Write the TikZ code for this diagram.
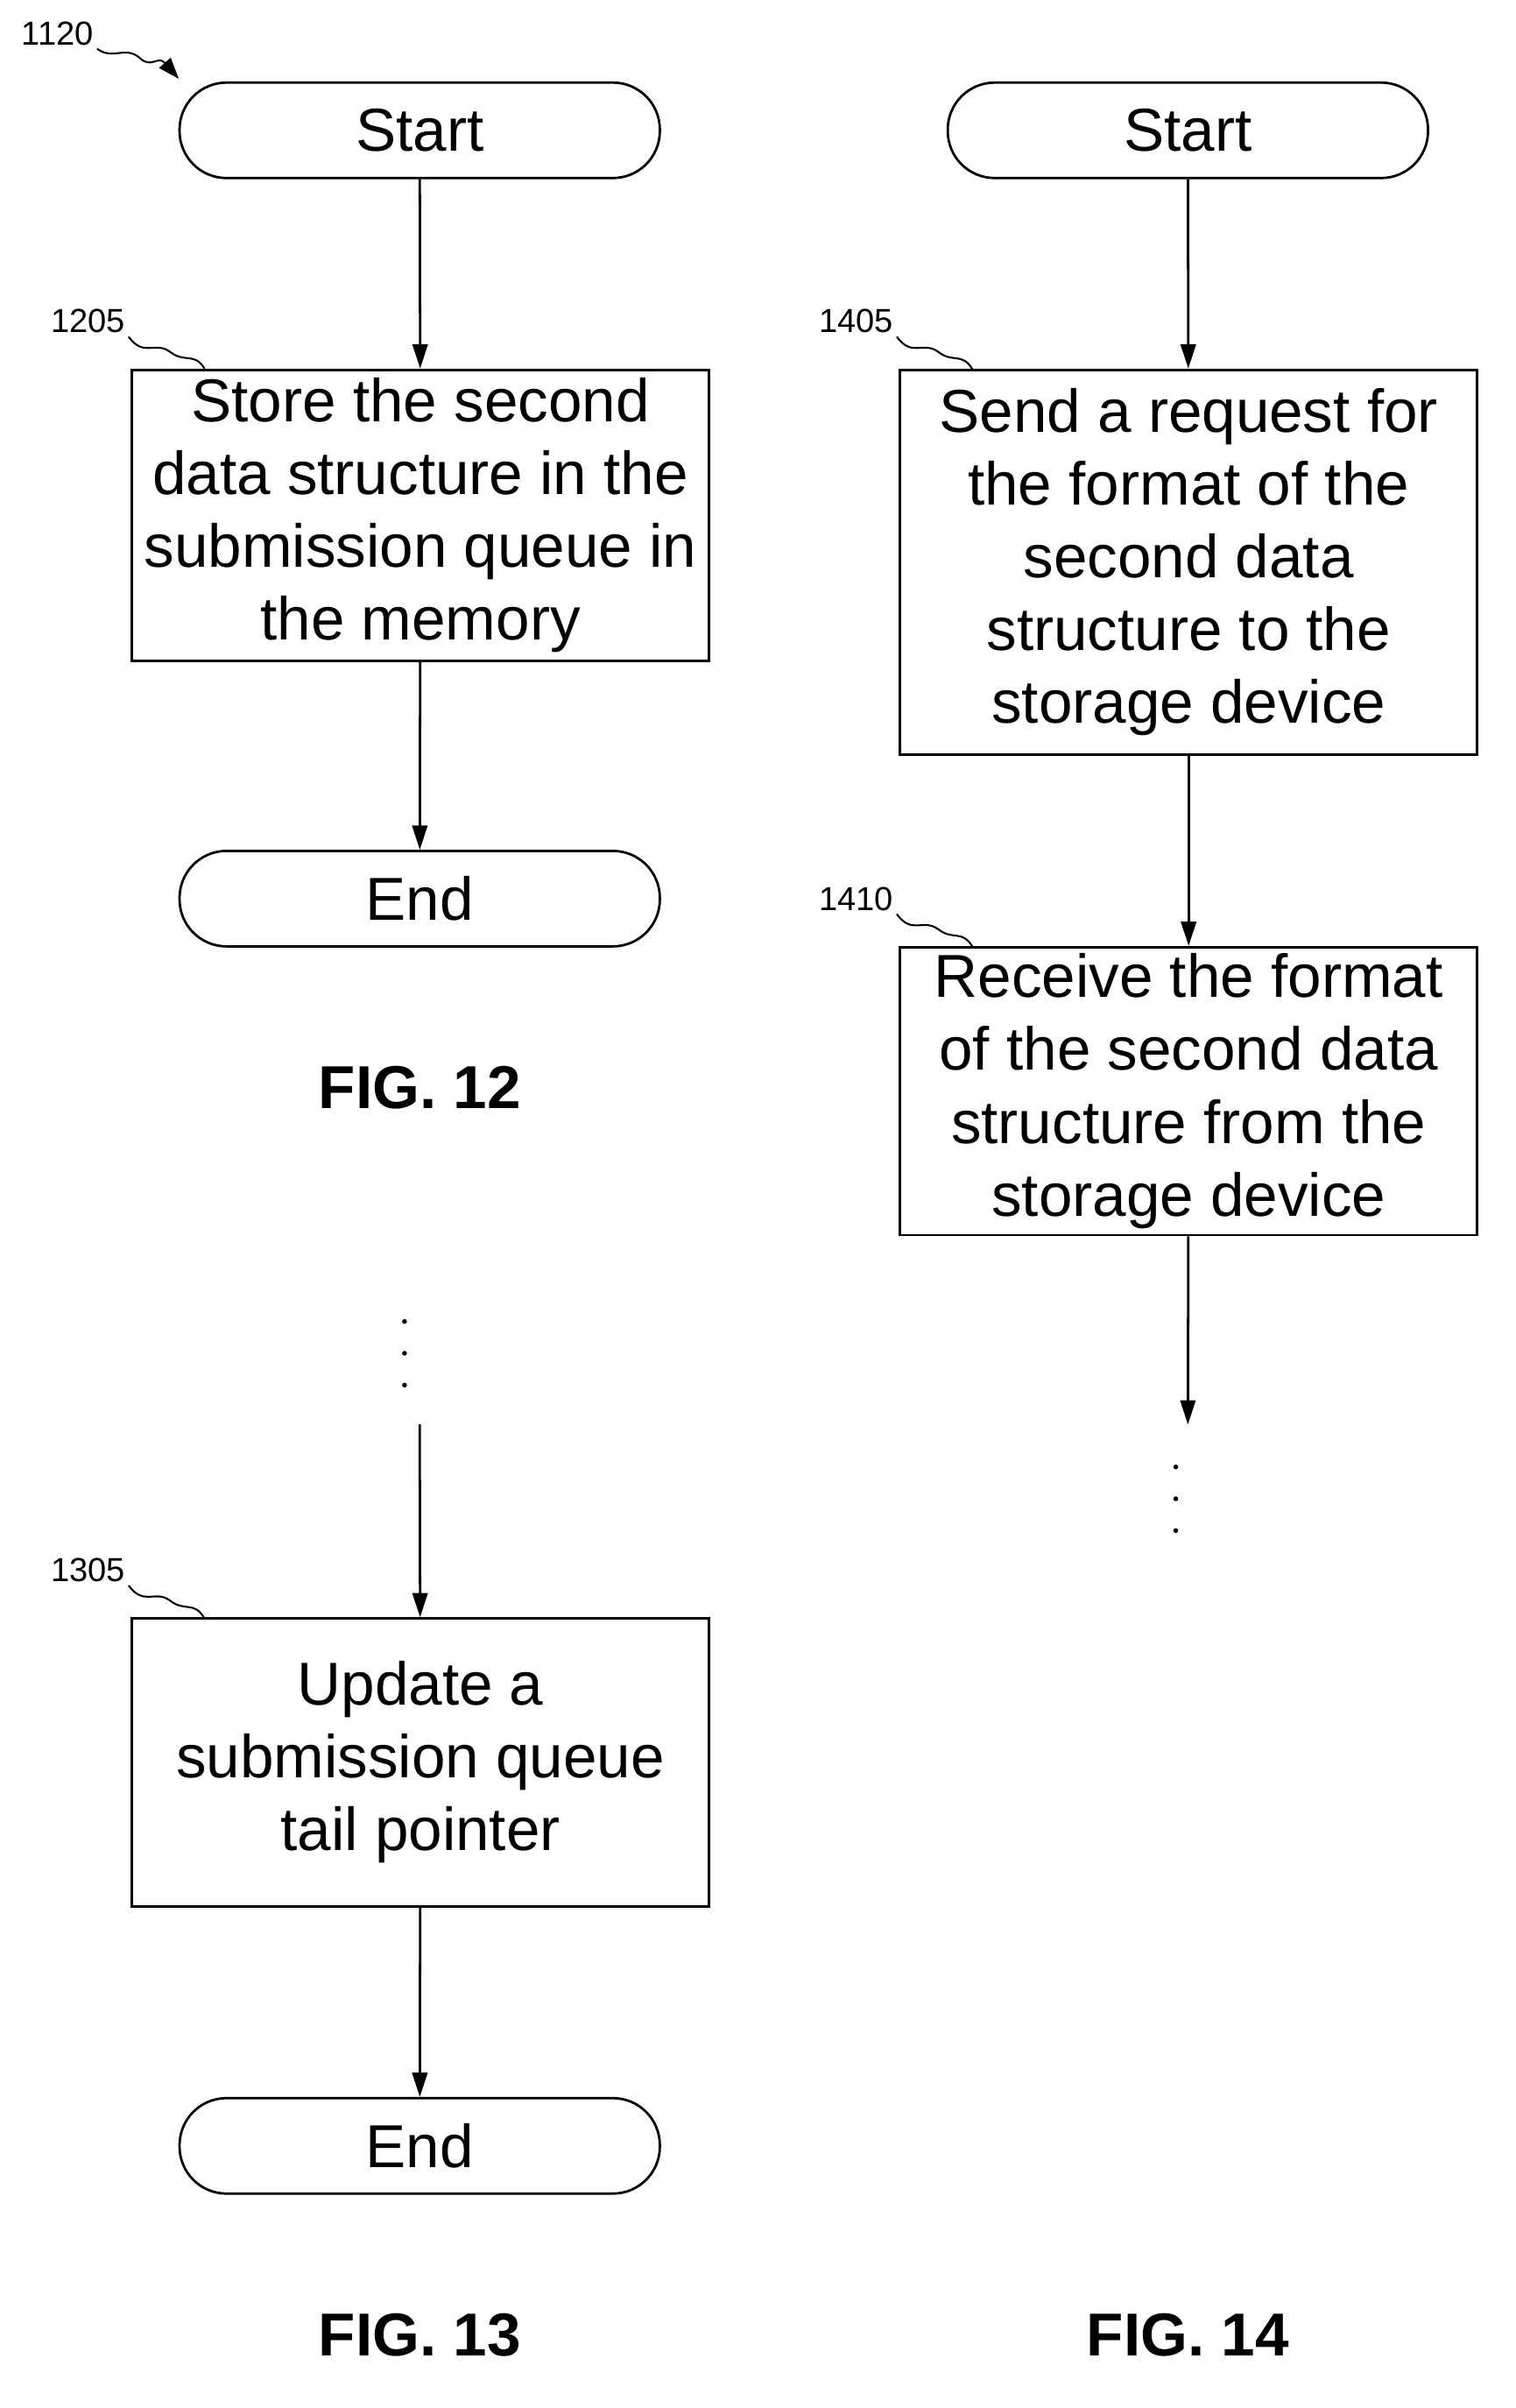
\documentclass[tikz,border=0pt]{standalone}
\usepackage{fontspec}
\setmainfont{Liberation Sans}
\usetikzlibrary{arrows.meta}
\begin{document}
\begin{tikzpicture}[x=0.5pt,y=-0.5pt,
 term/.style={draw,line width=0.8pt,rounded corners=15.5pt,minimum width=158.5pt,minimum height=31.5pt,font=\fontsize{20}{24}\selectfont},
 box/.style={draw,line width=0.8pt,minimum width=190.5pt,align=center,font=\fontsize{20}{24}\selectfont,inner sep=0pt},
 lab/.style={font=\fontsize{11}{13}\selectfont,inner sep=1pt},
 fig/.style={font=\fontsize{20}{24}\selectfont\bfseries},
 arr/.style={line width=0.8pt,-{Triangle[length=8pt,width=5pt]}},
 sq/.style={line width=0.6pt}]
\useasboundingbox (0,0) rectangle (1000,1589);
% FIG 12
\node[term] (s1) at (277,86) {Start};
\node[box,minimum height=96pt] (b1205) at (277.5,340) {Store the second\\data structure in the\\submission queue in\\the memory};
\node[term] (e1) at (277,593) {End};
\node[fig] (f12) at (277,718) {FIG. 12};
\draw[arr] (s1) -- (b1205);
\draw[arr] (b1205) -- (e1);
\node[lab] (l1205) at (58,212) {1205};
\draw[sq] (l1205.south east) .. controls (95,236) and (102,225) .. (112,232) .. controls (122,240) and (128,232) .. (b1205.north west -| 135,244);
\node[lab] (l1120) at (38,22) {1120};
\coordinate (t1120) at (118,52);
\draw[sq,-{Triangle[length=7pt,width=5pt]}] (l1120.south east) .. controls (75,40) and (82,30) .. (92,38) .. controls (100,46) and (104,36) .. (t1120);
% FIG 13
\foreach \yy in {872,893,914} \fill (267,\yy) circle (1.6);
\coordinate (c13) at (277,940);
\node[box,minimum height=95pt] (b1305) at (277.5,1163) {Update a\\submission queue\\tail pointer};
\node[term] (e2) at (277,1416) {End};
\node[fig] (f13) at (277,1541) {FIG. 13};
\draw[arr] (c13) -- (b1305);
\draw[arr] (b1305) -- (e2);
\node[lab] (l1305) at (58,1036) {1305};
\draw[sq] (l1305.south east) .. controls (95,1060) and (102,1049) .. (112,1056) .. controls (122,1064) and (128,1056) .. (135,1068);
% FIG 14
\node[term] (s2) at (784,86) {Start};
\node[box,minimum height=127pt] (b1405) at (784.5,371) {Send a request for\\the format of the\\second data\\structure to the\\storage device};
\node[box,minimum height=95pt] (b1410) at (784.5,720) {Receive the format\\of the second data\\structure from the\\storage device};
\coordinate (c14) at (784,940);
\foreach \yy in {968,989,1010} \fill (776,\yy) circle (1.6);
\node[fig] (f14) at (784,1541) {FIG. 14};
\draw[arr] (s2) -- (b1405);
\draw[arr] (b1405) -- (b1410);
\draw[arr] (b1410) -- (c14);
\node[lab] (l1405) at (565,212) {1405};
\draw[sq] (l1405.south east) .. controls (602,236) and (609,225) .. (619,232) .. controls (629,240) and (635,232) .. (642,244);
\node[lab] (l1410) at (565,593) {1410};
\draw[sq] (l1410.south east) .. controls (602,617) and (609,606) .. (619,613) .. controls (629,621) and (635,613) .. (642,625);
\end{tikzpicture}
\end{document}
